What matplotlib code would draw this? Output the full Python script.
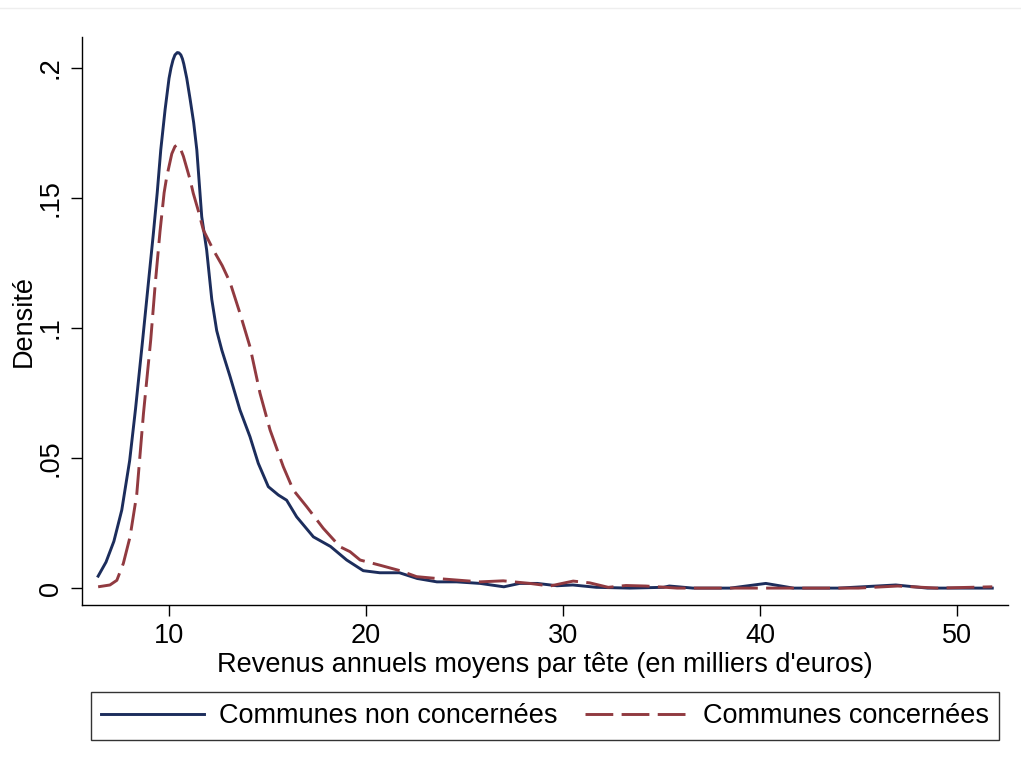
import matplotlib
matplotlib.use("Agg")
import matplotlib.pyplot as plt
from matplotlib.lines import Line2D

plt.rcParams['font.family'] = ['Liberation Sans', 'DejaVu Sans']
plt.rcParams['lines.scale_dashes'] = False

# Kernel density estimates of mean annual income per head (thousand euros)
income_non = [6.4, 6.8, 7.2, 7.6, 8.0, 8.3, 8.66, 9.0, 9.2, 9.4, 9.58, 9.8, 10.0,
              10.1, 10.2, 10.3, 10.42, 10.5, 10.6, 10.68, 10.75, 10.9, 11.07,
              11.25, 11.41, 11.66, 11.91, 12.17, 12.42, 12.68, 13.1, 13.6, 14.11,
              14.53, 15.04, 15.55, 15.97, 16.48, 17.33, 18.2, 19.02, 19.86, 20.7,
              21.7, 22.6, 23.6, 24.6, 25.8, 27.0, 27.8, 28.7, 29.7, 30.5, 31.7,
              33.4, 35.1, 35.4, 36.6, 38.5, 40.3, 41.7, 44.0, 46.9, 48.5, 51.8]
density_non = [0.0046, 0.0100, 0.0180, 0.0300, 0.0490, 0.0690, 0.0954, 0.1210,
               0.1360, 0.1520, 0.1685, 0.1840, 0.1960, 0.2000, 0.2030, 0.2050,
               0.2059, 0.2058, 0.2050, 0.2035, 0.2015, 0.1960, 0.1880, 0.1790,
               0.1685, 0.1428, 0.1300, 0.1110, 0.0990, 0.0915, 0.0813, 0.0685,
               0.0582, 0.0480, 0.0390, 0.0358, 0.0338, 0.0274, 0.0197, 0.0160,
               0.0108, 0.0067, 0.0059, 0.0059, 0.0037, 0.0024, 0.0024, 0.0018,
               0.0005, 0.0018, 0.0018, 0.0009, 0.0012, 0.0003, 0.0000, 0.0003,
               0.0008, 0.0000, 0.0000, 0.0018, 0.0000, 0.0000, 0.0012, 0.0000,
               0.0000]

income_conc = [6.4, 7.0, 7.35, 7.68, 8.02, 8.36, 8.7, 9.07, 9.3, 9.54, 9.75, 9.88,
               10.14, 10.3, 10.42, 10.55, 10.73, 11.07, 11.23, 11.49, 11.74,
               12.25, 12.7, 13.1, 13.6, 14.11, 14.62, 15.13, 15.8, 16.31, 16.99,
               17.83, 18.68, 19.19, 19.7, 20.71, 21.73, 22.57, 23.59, 24.6, 25.79,
               26.97, 28.32, 29.34, 30.52, 31.37, 32.3, 33.2, 34.2, 35.8, 40.0,
               45.0, 47.0, 49.0, 51.8]
density_conc = [0.0005, 0.0012, 0.0030, 0.0095, 0.0197, 0.0360, 0.0670, 0.0954,
                0.1170, 0.1370, 0.1520, 0.1580, 0.1670, 0.1698, 0.1704, 0.1695,
                0.1660, 0.1570, 0.1518, 0.1450, 0.1377, 0.1300, 0.1240, 0.1175,
                0.1057, 0.0928, 0.0749, 0.0608, 0.0467, 0.0377, 0.0313, 0.0230,
                0.0159, 0.0140, 0.0108, 0.0088, 0.0067, 0.0044, 0.0037, 0.0031,
                0.0024, 0.0028, 0.0018, 0.0008, 0.0027, 0.0020, 0.0003, 0.0010,
                0.0008, 0.0000, 0.0000, 0.0000, 0.0008, 0.0000, 0.0005]

x_ticks = [10, 20, 30, 40, 50]
y_ticks = [0, 0.05, 0.1, 0.15, 0.2]
y_tick_labels = ['0', '.05', '.1', '.15', '.2']

label_non = 'Communes non concernées'
label_conc = 'Communes concernées'
x_title = "Revenus annuels moyens par tête (en milliers d'euros)"
y_title = 'Densité'

navy = '#1c2d5c'
maroon = '#913a40'
fs = 19.5

fig = plt.figure(figsize=(10.21, 7.67), dpi=100)
ax = fig.add_axes([0.0803, 0.2112, 0.907, 0.7406])

ax.plot(income_non, density_non, color=navy, lw=2.1, label=label_non,
        solid_joinstyle='round')
ax.plot(income_conc, density_conc, color=maroon, lw=2.1, label=label_conc,
        linestyle=(0, (20, 6)))

ax.set_xlim(5.58, 52.6)
ax.set_ylim(-0.0065, 0.2119)

for side in ('top', 'right'):
    ax.spines[side].set_visible(False)
for side in ('left', 'bottom'):
    ax.spines[side].set_linewidth(1.0)
    ax.spines[side].set_color('black')

ax.set_xticks(x_ticks)
ax.set_xticklabels([str(v) for v in x_ticks])
ax.set_yticks(y_ticks)
ax.set_yticklabels(y_tick_labels, rotation=90, va='center')
ax.tick_params(axis='both', direction='out', length=8, width=1.0,
               labelsize=fs, colors='black')
ax.tick_params(axis='y', pad=5)
ax.tick_params(axis='x', pad=5)

ax.set_xlabel(x_title, fontsize=fs, labelpad=2)
ax.set_ylabel(y_title, fontsize=fs, labelpad=1)

leg = fig.legend(loc='center', bbox_to_anchor=(0.5338, 0.0665), ncol=2,
                 fontsize=fs, frameon=True, fancybox=False, edgecolor='black',
                 handlelength=3.8, columnspacing=1.0, handletextpad=0.55,
                 borderpad=0.4, borderaxespad=0)
leg.get_frame().set_linewidth(1.0)

# faint rule along the top edge of the page
fig.add_artist(Line2D([0, 1], [0.989, 0.989], transform=fig.transFigure,
                      color='#eeeeee', lw=1))

fig.savefig('out.png', dpi=100, facecolor='white')
